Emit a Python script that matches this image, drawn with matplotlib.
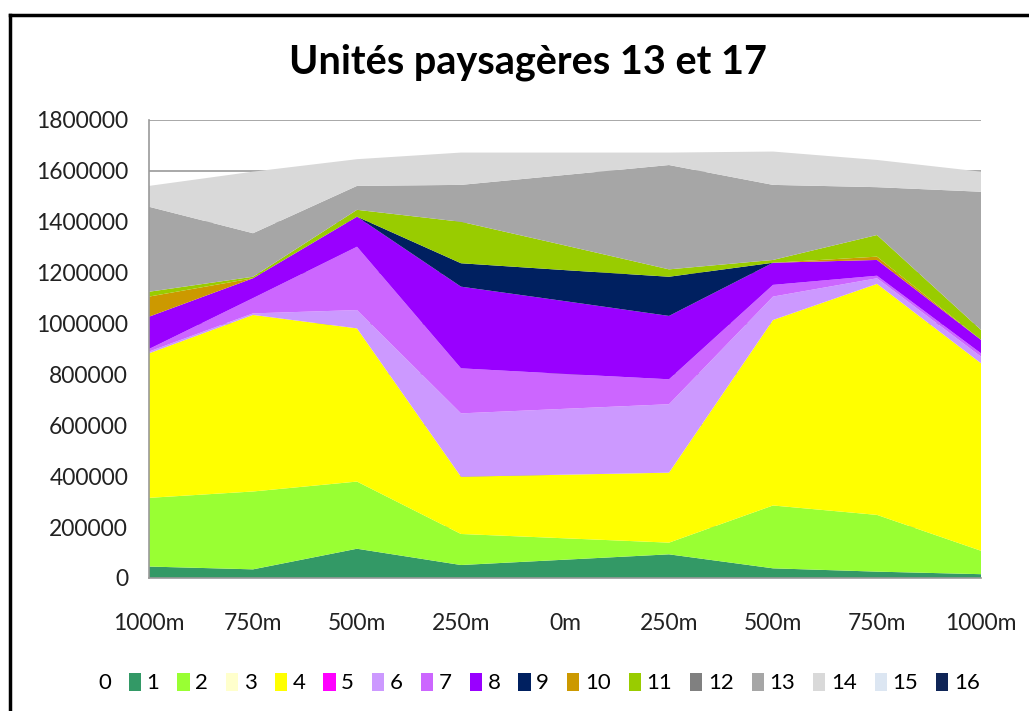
import numpy as np
import matplotlib
matplotlib.use("Agg")
import matplotlib.pyplot as plt
from matplotlib.patches import Patch
from matplotlib.lines import Line2D

plt.rcParams["font.family"] = ["Lato", "DejaVu Sans"]

# distance from the centre line, both sides
distances = ["1000m", "750m", "500m", "250m", "0m", "250m", "500m", "750m", "1000m"]

# surface per land-cover class (classes 0 to 16)
s0 = [0, 0, 0, 0, 0, 0, 0, 0, 0]
s1 = [45000, 34000, 115000, 51000, 72000, 93000, 38000, 25000, 15000]
s2 = [270000, 306000, 264000, 122000, 84000, 46000, 247000, 223000, 92000]
s3 = [0, 0, 0, 0, 0, 0, 0, 0, 0]
s4 = [568000, 694000, 602000, 225000, 250000, 275000, 729000, 908000, 737000]
s5 = [0, 0, 0, 0, 0, 0, 0, 0, 0]
s6 = [7000, 6000, 72000, 249000, 259000, 269000, 92000, 22000, 26000]
s7 = [10000, 60000, 249000, 177000, 137000, 98000, 46000, 10000, 13000]
s8 = [127000, 78000, 118000, 321000, 286000, 249000, 87000, 62000, 53000]
s9 = [0, 0, 0, 92000, 122000, 154000, 0, 0, 0]
s10 = [79000, 0, 0, 0, 0, 0, 0, 13000, 0]
s11 = [19000, 6000, 27000, 163000, 97000, 29000, 11000, 85000, 39000]
s12 = [0, 0, 0, 0, 0, 0, 0, 0, 0]
s13 = [334000, 171000, 94000, 145000, 277000, 410000, 295000, 188000, 543000]
s14 = [82000, 242000, 105000, 127000, 88000, 49000, 131000, 107000, 79000]
s15 = [0, 0, 0, 0, 0, 0, 0, 0, 0]
s16 = [0, 0, 0, 0, 0, 0, 0, 0, 0]

series = [s0, s1, s2, s3, s4, s5, s6, s7, s8, s9, s10, s11, s12, s13, s14, s15, s16]
labels = [str(i) for i in range(17)]
colors = ["#FFFFFF", "#339966", "#99FF33", "#FFFFCC", "#FFFF00", "#FF00FF",
          "#CC99FF", "#CC66FF", "#9900FF", "#002060", "#CC9900", "#99CC00",
          "#808080", "#A6A6A6", "#D9D9D9", "#DCE6F2", "#0F2557"]

fig = plt.figure(figsize=(10.29, 7.11), dpi=100)
ax = fig.add_axes([149 / 1029, 1 - 578 / 711, (981 - 149) / 1029, (578 - 120) / 711])

x = np.arange(len(distances))
ax.stackplot(x, *series, colors=colors, linewidth=0, zorder=2)

ax.set_xlim(0, len(distances) - 1)
ax.set_ylim(0, 1800000)
ax.set_yticks(np.arange(0, 1800001, 200000))
ax.set_yticklabels([str(v) for v in range(0, 1800001, 200000)])
ax.set_xticks(x)
ax.set_xticklabels(distances)
ax.tick_params(length=0, labelsize=16.5, colors="#222222")
ax.tick_params(axis="y", pad=15)
ax.tick_params(axis="x", pad=25)
ax.yaxis.grid(True, color="#999999", linewidth=1.2, zorder=0)
ax.set_axisbelow(True)
for side in ["top", "right"]:
    ax.spines[side].set_visible(False)
for side in ["left", "bottom"]:
    ax.spines[side].set_color("#999999")
    ax.spines[side].set_linewidth(1.2)

fig.text(528 / 1029, 1 - 62 / 711, "Unités paysagères 13 et 17",
         ha="center", va="center", fontsize=28.5, fontweight="bold")

handles = []
for i, c in enumerate(colors):
    if i == 0:
        handles.append(Patch(facecolor="none", edgecolor="none"))
    else:
        handles.append(Patch(facecolor=c, edgecolor="none"))
fig.legend(handles, labels, loc="center", bbox_to_anchor=(530 / 1029, 1 - 683 / 711),
           ncol=17, frameon=False, fontsize=16, handlelength=0.55, handleheight=0.9,
           handletextpad=0.25, columnspacing=0.81, borderaxespad=0)

# outer frame, top and left edges
fig.add_artist(Line2D([10 / 1029, 1.0], [1 - 15 / 711, 1 - 15 / 711],
                      transform=fig.transFigure, color="black", linewidth=2.5))
fig.add_artist(Line2D([10 / 1029, 10 / 1029], [0.0, 1 - 15 / 711],
                      transform=fig.transFigure, color="black", linewidth=2.5))

fig.savefig("out.png", dpi=100)
